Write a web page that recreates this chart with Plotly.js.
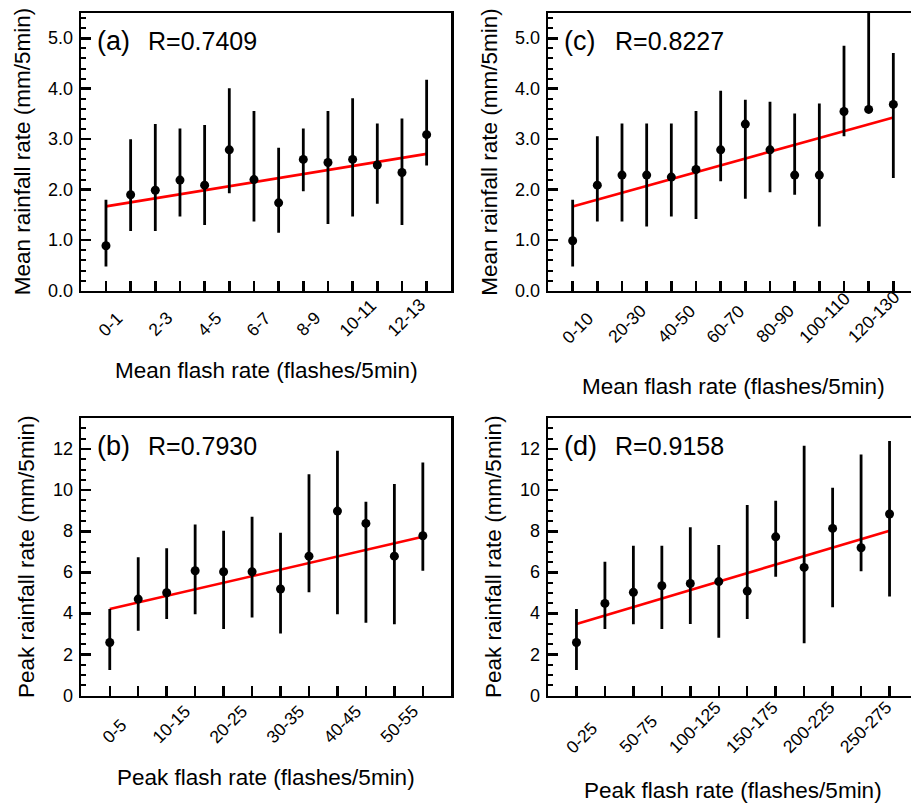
<!DOCTYPE html>
<html><head><meta charset="utf-8">
<script src="https://cdn.plot.ly/plotly-3.0.1.min.js"></script>
<style>html,body{margin:0;padding:0;overflow:hidden;background:#fff}#chart{width:920px;height:806px}</style>
</head><body><div id="chart"></div>
<script>
// ---------- data ----------
const catA = ['0-1','1-2','2-3','3-4','4-5','5-6','6-7','7-8','8-9','9-10','10-11','11-12','12-13','13-14'];
const meanA = [0.89,1.90,1.99,2.19,2.09,2.79,2.20,1.74,2.60,2.54,2.60,2.49,2.34,3.09];
const upA   = [1.80,3.00,3.30,3.21,3.28,4.01,3.56,2.83,3.21,3.56,3.81,3.31,3.41,4.18];
const lowA  = [0.48,1.18,1.18,1.47,1.30,1.93,1.37,1.15,1.97,1.32,1.47,1.72,1.30,2.48];
const fitA  = [1.67,2.71];

const catC = ['0-10','10-20','20-30','30-40','40-50','50-60','60-70','70-80','80-90','90-100','100-110','110-120','120-130','130-140'];
const meanC = [0.99,2.09,2.29,2.29,2.25,2.40,2.79,3.30,2.79,2.29,2.29,3.55,3.59,3.69];
const upC   = [1.80,3.06,3.31,3.31,3.31,3.56,3.96,3.78,3.74,3.51,3.71,4.85,6.00,4.71];
const lowC  = [0.48,1.37,1.37,1.27,1.47,1.42,2.17,1.82,1.95,1.90,1.27,3.06,3.55,2.23];
const fitC  = [1.67,3.43];

const catB = ['0-5','5-10','10-15','15-20','20-25','25-30','30-35','35-40','40-45','45-50','50-55','55-60'];
const meanB = [2.59,4.70,5.01,6.08,6.03,6.03,5.19,6.79,8.98,8.38,6.79,7.78];
const upB   = [4.22,6.73,7.17,8.33,8.03,8.71,7.93,10.77,11.92,9.44,10.30,11.35];
const lowB  = [1.25,3.16,3.73,3.96,3.24,3.81,3.03,5.03,3.96,3.55,3.47,6.08];
const fitB  = [4.22,7.73];

const catD = ['0-25','25-50','50-75','75-100','100-125','125-150','150-175','175-200','200-225','225-250','250-275','275-300'];
const meanD = [2.59,4.49,5.03,5.35,5.46,5.55,5.09,7.73,6.24,8.14,7.20,8.84];
const upD   = [4.22,6.52,7.30,7.30,8.19,7.33,9.28,9.49,12.16,10.12,11.74,12.39];
const lowD  = [1.25,3.24,3.47,3.24,3.49,2.82,3.73,5.79,2.55,4.30,6.06,4.82];
const fitD  = [3.49,8.03];

const yTickMean = [0,1,2,3,4,5];
const yTickMeanText = ['0.0','1.0','2.0','3.0','4.0','5.0'];
const yTickPeak = [0,2,4,6,8,10,12];
const yTickPeakText = ['0','2','4','6','8','10','12'];

const labelA = '(a)', rA = 'R=0.7409';
const labelB = '(b)', rB = 'R=0.7930';
const labelC = '(c)', rC = 'R=0.8227';
const labelD = '(d)', rD = 'R=0.9158';
const xTitleMean = 'Mean flash rate (flashes/5min)';
const yTitleMean = 'Mean rainfall rate (mm/5min)';
const xTitlePeak = 'Peak flash rate (flashes/5min)';
const yTitlePeak = 'Peak rainfall rate (mm/5min)';

// ---------- layout helpers ----------
const W = 920, H = 806;
const FONT = 'Liberation Sans, Arial, Helvetica, sans-serif';
const px = v => v / W;
const py = v => (H - v) / H;

const panels = [
  {n:1, cats:catA, mean:meanA, up:upA, low:lowA, fit:fitA, label:labelA, r:rA, xt:xTitleMean, yt:yTitleMean,
   yv:yTickMean, ytx:yTickMeanText,
   bx:[81.3,451.3], by:[13,290.7], yr:[0,5.5], mn:0.2, lblBottom:343, xtY:370, ytX:22.5},
  {n:2, cats:catC, mean:meanC, up:upC, low:lowC, fit:fitC, label:labelC, r:rC, xt:xTitleMean, yt:yTitleMean,
   yv:yTickMean, ytx:yTickMeanText,
   bx:[548,918], by:[13,290.7], yr:[0,5.5], mn:0.2, lblBottom:350, xtY:386, ytX:490},
  {n:3, cats:catB, mean:meanB, up:upB, low:lowB, fit:fitB, label:labelB, r:rB, xt:xTitlePeak, yt:yTitlePeak,
   yv:yTickPeak, ytx:yTickPeakText,
   bx:[81.3,451.3], by:[418.2,695.7], yr:[0,13.5], mn:0.5, lblBottom:750, xtY:777.5, ytX:27},
  {n:4, cats:catD, mean:meanD, up:upD, low:lowD, fit:fitD, label:labelD, r:rD, xt:xTitlePeak, yt:yTitlePeak,
   yv:yTickPeak, ytx:yTickPeakText,
   bx:[548,918], by:[418.2,695.7], yr:[0,13.5], mn:0.5, lblBottom:760, xtY:790.8, ytX:494}
];

const traces = [];
const layout = {
  width: W, height: H, autosize: false,
  margin: {l:0, r:0, t:0, b:0},
  paper_bgcolor: '#fff', plot_bgcolor: '#fff',
  font: {family: FONT, color: '#000'},
  showlegend: false,
  annotations: []
};

panels.forEach(p => {
  const xs = p.n === 1 ? 'x' : 'x' + p.n;
  const ys = p.n === 1 ? 'y' : 'y' + p.n;
  const n = p.cats.length;
  // regression line
  traces.push({
    type:'scatter', mode:'lines', xaxis:xs, yaxis:ys,
    x:[p.cats[0], p.cats[n-1]], y:p.fit,
    line:{color:'#ff0000', width:2.6}, hoverinfo:'skip'
  });
  // means with ranges
  traces.push({
    type:'scatter', mode:'markers', xaxis:xs, yaxis:ys,
    x:p.cats, y:p.mean,
    marker:{color:'#000', size:9},
    error_y:{type:'data', symmetric:false,
      array:p.up.map((u,i)=>u - p.mean[i]),
      arrayminus:p.low.map((l,i)=>p.mean[i] - l),
      color:'#000', thickness:2.8, width:0}
  });
  const xk = p.n === 1 ? 'xaxis' : 'xaxis' + p.n;
  const yk = p.n === 1 ? 'yaxis' : 'yaxis' + p.n;
  layout[xk] = {
    type:'category', categoryorder:'array', categoryarray:p.cats,
    domain:[px(p.bx[0]), px(p.bx[1])], anchor:ys,
    range:[-1, n], fixedrange:true,
    showline:true, linecolor:'#000', linewidth:2.5, mirror:true,
    showgrid:false, zeroline:false,
    ticks:'inside', ticklen:10, tickwidth:2.5, tickcolor:'#000',
    showticklabels:false
  };
  layout[yk] = {
    domain:[py(p.by[1]), py(p.by[0])], anchor:xs,
    range:p.yr, fixedrange:true,
    showline:true, linecolor:'#000', linewidth:2.5, mirror:true,
    showgrid:false, zeroline:false,
    ticks:'inside', ticklen:10, tickwidth:2.5, tickcolor:'#000',
    tickmode:'array', tickvals:p.yv, showticklabels:false,
    minor:{ticks:'inside', ticklen:5, tickwidth:2, tickcolor:'#000', dtick:p.mn, tick0:0, showgrid:false}
  };
  // y tick labels, placed on the axis scale
  p.yv.forEach((v,i) => {
    layout.annotations.push({
      x:px(p.bx[0] - 6.5), xref:'paper', y:v, yref:ys,
      xanchor:'right', yanchor:'middle', text:p.ytx[i], showarrow:false,
      font:{size:18, color:'#000', family:FONT}
    });
  });
  // rotated category labels (every other category)
  p.cats.forEach((c,i) => {
    if (i % 2 !== 0) return;
    layout.annotations.push({
      x:c, xref:xs, y:py(p.lblBottom), yref:'paper',
      xanchor:'center', yanchor:'bottom', xshift:5,
      text:c, textangle:-45, showarrow:false,
      font:{size:17.5, color:'#000', family:FONT}
    });
  });
  const cx = (p.bx[0] + p.bx[1]) / 2, cy = (p.by[0] + p.by[1]) / 2;
  layout.annotations.push({
    x:px(cx), y:py(p.xtY), xref:'paper', yref:'paper',
    xanchor:'center', yanchor:'middle', text:p.xt, showarrow:false,
    font:{size:22.5, color:'#000', family:FONT}
  });
  layout.annotations.push({
    x:px(p.ytX), y:py(cy), xref:'paper', yref:'paper',
    xanchor:'center', yanchor:'middle', text:p.yt, textangle:-90, showarrow:false,
    font:{size:22.5, color:'#000', family:FONT}
  });
  layout.annotations.push({
    x:px(p.bx[0] + 14), y:py(p.by[0] + 28), xref:'paper', yref:'paper',
    xanchor:'left', yanchor:'middle', text:p.label, showarrow:false,
    font:{size:27, color:'#000', family:FONT}
  });
  layout.annotations.push({
    x:px(p.bx[0] + 65), y:py(p.by[0] + 28), xref:'paper', yref:'paper',
    xanchor:'left', yanchor:'middle', text:p.r, showarrow:false,
    font:{size:25, color:'#000', family:FONT}
  });
});

Plotly.newPlot('chart', traces, layout, {staticPlot:true, displayModeBar:false});
</script>
</body></html>
